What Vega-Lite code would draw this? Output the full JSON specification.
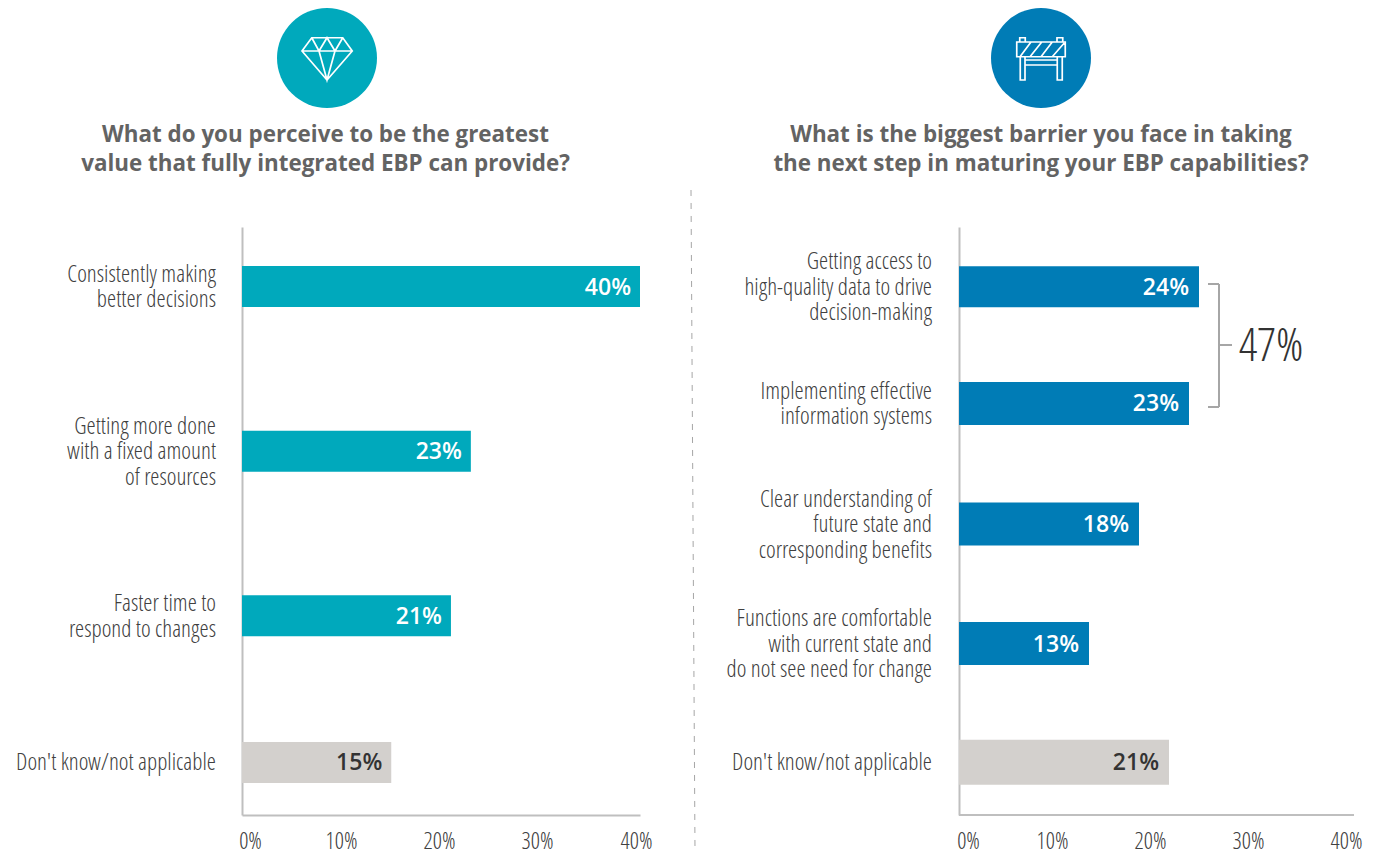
{
  "$schema": "https://vega.github.io/schema/vega-lite/v6.json",
  "autosize": {"type": "none"},
  "padding": {"left": 242, "top": 0, "right": 1136, "bottom": 851},
  "background": "white",
  "bounds": "flush",
  "spacing": 0,
  "config": {"view": {"stroke": null}, "concat": {"spacing": 0}},
  "resolve": {"scale": {"color": "independent"}},
  "datasets": {
    "value": [
      {"rank": 1, "label": "Consistently making\nbetter decisions", "share": 40, "group": "answer"},
      {"rank": 2, "label": "Getting more done\nwith a fixed amount\nof resources", "share": 23, "group": "answer"},
      {"rank": 3, "label": "Faster time to\nrespond to changes", "share": 21, "group": "answer"},
      {"rank": 4, "label": "Don't know/not applicable", "share": 15, "group": "none"}
    ],
    "barrier": [
      {"rank": 1, "label": "Getting access to\nhigh-quality data to drive\ndecision-making", "share": 24, "group": "answer"},
      {"rank": 2, "label": "Implementing effective\ninformation systems", "share": 23, "group": "answer"},
      {"rank": 3, "label": "Clear understanding of\nfuture state and\ncorresponding benefits", "share": 18, "group": "answer"},
      {"rank": 4, "label": "Functions are comfortable\nwith current state and\ndo not see need for change", "share": 13, "group": "answer"},
      {"rank": 5, "label": "Don't know/not applicable", "share": 21, "group": "none"}
    ],
    "bracket": [
      {"from": 24.9, "to": 26, "top": 57, "bottom": 57},
      {"from": 26, "to": 26, "top": 57, "bottom": 180},
      {"from": 24.9, "to": 26, "top": 180, "bottom": 180},
      {"from": 26, "to": 27.3, "top": 118, "bottom": 118}
    ]
  },
  "hconcat": [
    {
      "bounds": "flush",
      "spacing": 0,
      "vconcat": [
        {
          "width": 170,
          "height": 116,
          "data": {"values": [{"topic": "value"}]},
          "layer": [
            {"mark": {"type": "point", "filled": true, "fill": "#00A9BC", "stroke": null, "opacity": 1, "shape": "circle", "size": 10000}, "encoding": {}},
            {"mark": {"type": "point", "filled": false, "stroke": "white", "strokeWidth": 1.7, "opacity": 1, "size": 2500, "shape": "M-.61,-.81L.63,-.81L1.01,-.28L0,.88L-1,-.28ZM-1,-.28L1.01,-.28M-.61,-.81L-.32,-.28L0,-.81L.32,-.28L.63,-.81M-.32,-.28L0,.88L.32,-.28"}, "encoding": {}}
          ]
        },
        {
          "width": 170,
          "height": 111,
          "data": {"values": [{"title": "What do you perceive to be the greatest\nvalue that fully integrated EBP can provide?"}]},
          "mark": {"type": "text", "font": "Open Sans", "fontWeight": 700, "fontSize": 22.4, "color": "#636363", "lineBreak": "\n", "lineHeight": 29, "dx": -1.5, "dy": -36.5, "align": "center", "baseline": "middle"},
          "encoding": {"text": {"field": "title"}}
        },
        {
          "width": 398,
          "height": 588,
          "data": {"name": "value"},
          "transform": [{"calculate": "datum.share + '%'", "as": "shown"}],
          "encoding": {
            "y": {"field": "rank", "type": "ordinal", "scale": {"paddingInner": 0.5, "paddingOuter": 0.103}, "axis": {"labels": false, "ticks": false, "title": null, "domainColor": "#bfbfbf", "domainWidth": 2, "grid": false}}
          },
          "layer": [
            {
              "mark": {"type": "bar", "size": 41, "yOffset": {"expr": "[3.5,9.5,15.5,3.5][datum.rank-1]"}},
              "encoding": {
                "x": {"field": "share", "type": "quantitative", "scale": {"domain": [0, 40], "nice": false}, "axis": {"values": [0, 10, 20, 30, 40], "title": null, "ticks": false, "grid": false, "domainColor": "#bfbfbf", "domainWidth": 2, "labelExpr": "datum.value + '%'", "labelFont": "Open Sans Condensed Light", "labelFontWeight": 300, "labelFontSize": 23, "labelColor": "#404040", "labelPadding": 15, "labelFlush": false, "labelOverlap": false, "labelOffset": {"expr": "[8,-0.5,-2,-3.5,-4][datum.value/10]"}}},
                "color": {"field": "group", "type": "nominal", "scale": {"domain": ["answer", "none"], "range": ["#00A9BC", "#D3D0CD"]}, "legend": null}
              }
            },
            {
              "mark": {"type": "text", "font": "Open Sans", "fontWeight": 600, "fontSize": 23, "align": "right", "baseline": "middle", "dx": -9, "dy": 1, "yOffset": {"expr": "[3.5,9.5,15.5,3.5][datum.rank-1]"}},
              "encoding": {
                "x": {"field": "share", "type": "quantitative"},
                "text": {"field": "shown"},
                "color": {"condition": {"test": "datum.group == 'none'", "value": "#333333"}, "value": "#ffffff"}
              }
            },
            {
              "mark": {"type": "text", "font": "Open Sans Condensed Light", "fontWeight": 300, "fontSize": 23.35, "color": "#404040", "align": "right", "baseline": "middle", "lineBreak": "\n", "lineHeight": 25.5, "dx": -26, "x": 0, "dy": {"expr": "1-(length(split(datum.label,'\\n'))-1)*12.75"}, "yOffset": {"expr": "[3.5,9.5,15.5,3.5][datum.rank-1]"}},
              "encoding": {"text": {"field": "label"}}
            }
          ]
        }
      ]
    },
    {
      "width": 717,
      "height": 851,
      "data": {"values": [{"from": 190, "to": 851, "left": 691, "right": 695}]},
      "mark": {"type": "rule", "stroke": "#a6a6a6", "strokeWidth": 1, "strokeDash": [6, 7]},
      "encoding": {
        "x": {"field": "left", "type": "quantitative", "scale": {"domain": [242, 959], "nice": false, "zero": false}, "axis": null},
        "x2": {"field": "right"},
        "y": {"field": "from", "type": "quantitative", "scale": {"domain": [0, 851], "reverse": true, "nice": false}, "axis": null},
        "y2": {"field": "to"}
      }
    },
    {
      "bounds": "flush",
      "spacing": 0,
      "vconcat": [
        {
          "width": 164,
          "height": 116,
          "data": {"values": [{"topic": "barrier"}]},
          "layer": [
            {"mark": {"type": "point", "filled": true, "fill": "#007CB6", "stroke": null, "opacity": 1, "shape": "circle", "size": 10000}, "encoding": {}},
            {"mark": {"type": "point", "filled": false, "stroke": "white", "strokeWidth": 1.7, "opacity": 1, "size": 2500, "shape": "M-.97,-.64H.97V-.05H-.97ZM-.85,-.64V-.81H-.63V-.64M.64,-.64V-.81H.87V-.64M-.83,-.05V.88H-.64V-.05M.65,-.05V.88H.85V-.05M-.64,.08H.65M-.64,.28H.65M-.84,-.05L-.4,-.64M-.44,-.05L.03,-.64M0,-.05L.45,-.64M.45,-.05L.93,-.6"}, "encoding": {}}
          ]
        },
        {
          "width": 164,
          "height": 111,
          "data": {"values": [{"title": "What is the biggest barrier you face in taking\nthe next step in maturing your EBP capabilities?"}]},
          "mark": {"type": "text", "font": "Open Sans", "fontWeight": 700, "fontSize": 22.4, "color": "#636363", "lineBreak": "\n", "lineHeight": 29, "dy": -36.5, "align": "center", "baseline": "middle"},
          "encoding": {"text": {"field": "title"}}
        },
        {
          "width": 400,
          "height": 588,
          "layer": [
            {
              "data": {"name": "barrier"},
              "transform": [{"calculate": "datum.share + '%'", "as": "shown"}],
              "encoding": {
                "y": {"field": "rank", "type": "ordinal", "scale": {"paddingInner": 0, "paddingOuter": 0}, "axis": {"labels": false, "ticks": false, "title": null, "domainColor": "#bfbfbf", "domainWidth": 2, "grid": false}}
              },
              "layer": [
                {
                  "mark": {"type": "bar", "yOffset": {"expr": "[1,0,3,5,6][datum.rank-1]"}},
                  "encoding": {
                    "x": {"field": "share", "type": "quantitative", "scale": {"domain": [0, 40], "nice": false}, "axis": {"values": [0, 10, 20, 30, 40], "title": null, "ticks": false, "grid": false, "domain": false, "labelExpr": "datum.value + '%'", "labelFont": "Open Sans Condensed Light", "labelFontWeight": 300, "labelFontSize": 23, "labelColor": "#404040", "labelPadding": 15, "labelFlush": false, "labelOverlap": false, "labelBound": false, "labelOffset": {"expr": "[9,-7,-9,-11,-13][datum.value/10]"}}},
                    "size": {"condition": [{"test": "datum.rank == 1", "value": 41}, {"test": "datum.rank == 5", "value": 45}], "value": 43},
                    "color": {"field": "group", "type": "nominal", "scale": {"domain": ["answer", "none"], "range": ["#007CB6", "#D3D0CD"]}, "legend": null}
                  }
                },
                {
                  "mark": {"type": "text", "font": "Open Sans", "fontWeight": 600, "fontSize": 23, "align": "right", "baseline": "middle", "dx": -10, "dy": 1, "yOffset": {"expr": "[1,0,3,5,6][datum.rank-1]"}},
                  "encoding": {
                    "x": {"field": "share", "type": "quantitative"},
                    "text": {"field": "shown"},
                    "color": {"condition": {"test": "datum.group == 'none'", "value": "#333333"}, "value": "#ffffff"}
                  }
                },
                {
                  "mark": {"type": "text", "font": "Open Sans Condensed Light", "fontWeight": 300, "fontSize": 23.35, "color": "#404040", "align": "right", "baseline": "middle", "lineBreak": "\n", "lineHeight": 25.5, "dx": -27, "x": 0, "dy": {"expr": "1-(length(split(datum.label,'\\n'))-1)*12.75"}, "yOffset": {"expr": "[1,0,3,5,6][datum.rank-1]"}},
                  "encoding": {"text": {"field": "label"}}
                }
              ]
            },
            {
              "data": {"values": [{"from": 0, "to": 39.5, "top": 588, "bottom": 588}]},
              "mark": {"type": "rule", "stroke": "#bfbfbf", "strokeWidth": 2},
              "encoding": {
                "x": {"field": "from", "type": "quantitative"},
                "x2": {"field": "to"},
                "y": {"field": "top", "type": "quantitative", "scale": {"domain": [0, 588], "reverse": true, "nice": false}, "axis": null},
                "y2": {"field": "bottom"}
              }
            },
            {
              "data": {"name": "bracket"},
              "mark": {"type": "rule", "stroke": "#a6a6a6", "strokeWidth": 2},
              "encoding": {
                "x": {"field": "from", "type": "quantitative"},
                "x2": {"field": "to"},
                "y": {"field": "top", "type": "quantitative", "scale": {"domain": [0, 588], "reverse": true, "nice": false}, "axis": null},
                "y2": {"field": "bottom"}
              }
            },
            {
              "data": {"values": [{"total": "47%", "at": 31.2, "level": 120}]},
              "mark": {"type": "text", "font": "Open Sans Condensed Light", "fontWeight": 300, "fontSize": 46.5, "color": "#333333", "align": "center", "baseline": "middle"},
              "encoding": {
                "x": {"field": "at", "type": "quantitative"},
                "y": {"field": "level", "type": "quantitative", "scale": {"domain": [0, 588], "reverse": true, "nice": false}, "axis": null},
                "text": {"field": "total"}
              }
            }
          ],
          "resolve": {"scale": {"y": "independent"}}
        }
      ]
    }
  ]
}
